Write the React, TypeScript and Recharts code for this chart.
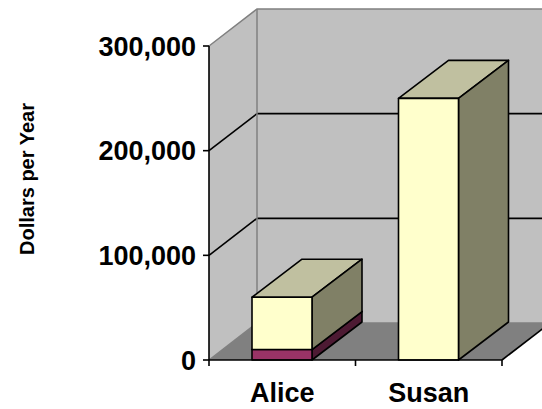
import React from "react";
import { Bar, BarChart, XAxis, YAxis } from "recharts";

const people = ["Alice", "Susan"];
const baseValues = [10000, 0];
const topValues = [50000, 250000];
const yTicks = [0, 100000, 200000, 300000];
const yLabel = "Dollars per Year";

const data = people.map((name, i) => ({
  name,
  base: baseValues[i],
  top: topValues[i],
}));

const W = 542;
const H = 409;
const LEFT = 209;
const TOP = 46;
const RIGHT = 40;
const BOTTOM = 49;
const WALL_DX = 48;
const WALL_DY = -37;
const BAR_DX = 50;
const BAR_DY = -38;
const FONT = "Arial, 'Liberation Sans', sans-serif";

const plotBottom = H - BOTTOM;
const plotRight = W - RIGHT;
const maxY = yTicks[yTicks.length - 1];
const yScale = (v) => plotBottom - (v / maxY) * (plotBottom - TOP);

function Walls() {
  const bx = LEFT + WALL_DX;
  const farRight = plotRight + WALL_DX;
  return (
    <svg width={W} height={H} style={{ position: "absolute", left: 0, top: 0 }}>
      <polygon
        points={`${LEFT},${TOP} ${bx},${TOP + WALL_DY} ${bx},${plotBottom + WALL_DY} ${LEFT},${plotBottom}`}
        fill="#C0C0C0"
      />
      <polygon
        points={`${bx},${TOP + WALL_DY} ${farRight},${TOP + WALL_DY} ${farRight},${plotBottom + WALL_DY} ${bx},${plotBottom + WALL_DY}`}
        fill="#C0C0C0"
      />
      <polygon
        points={`${LEFT},${plotBottom} ${plotRight},${plotBottom} ${farRight},${plotBottom + WALL_DY} ${bx},${plotBottom + WALL_DY}`}
        fill="#808080"
      />
      {yTicks.slice(1, -1).map((v) => (
        <g key={v} stroke="#000" strokeWidth={1.6}>
          <line x1={LEFT} y1={yScale(v)} x2={bx} y2={yScale(v) + WALL_DY} />
          <line x1={bx} y1={yScale(v) + WALL_DY} x2={farRight} y2={yScale(v) + WALL_DY} />
        </g>
      ))}
      <g stroke="#808080" strokeWidth={1.5} fill="none">
        <polyline
          points={`${LEFT},${TOP} ${bx},${TOP + WALL_DY} ${farRight},${TOP + WALL_DY}`}
        />
        <line x1={bx} y1={TOP + WALL_DY} x2={bx} y2={plotBottom + WALL_DY} />
        <line x1={LEFT} y1={plotBottom} x2={bx} y2={plotBottom + WALL_DY} />
        <line x1={bx} y1={plotBottom + WALL_DY} x2={farRight} y2={plotBottom + WALL_DY} />
      </g>
      <line
        x1={plotRight}
        y1={plotBottom}
        x2={farRight}
        y2={plotBottom + WALL_DY}
        stroke="#000"
        strokeWidth={1.6}
      />
      <text
        transform={`translate(27, 179) rotate(-90)`}
        textAnchor="middle"
        dominantBaseline="central"
        fontFamily={FONT}
        fontWeight="bold"
        fontSize={20}
        fill="#000"
      >
        {yLabel}
      </text>
    </svg>
  );
}

function Box3D(props) {
  const { x, y, width, height, front, top, side } = props;
  if (!height || height <= 0) return null;
  const w = width;
  return (
    <g stroke="#000" strokeWidth={1.6} strokeLinejoin="round">
      <polygon
        points={`${x},${y} ${x + w},${y} ${x + w + BAR_DX},${y + BAR_DY} ${x + BAR_DX},${y + BAR_DY}`}
        fill={top}
      />
      <polygon
        points={`${x + w},${y} ${x + w + BAR_DX},${y + BAR_DY} ${x + w + BAR_DX},${y + height + BAR_DY} ${x + w},${y + height}`}
        fill={side}
      />
      <rect x={x} y={y} width={w} height={height} fill={front} />
    </g>
  );
}

const fmt = (v) => v.toLocaleString("en-US");

export default function App() {
  return (
    <div style={{ position: "absolute", left: 0, top: 0, width: W, height: H, background: "#fff" }}>
      <Walls />
      <div style={{ position: "absolute", left: 0, top: 0 }}>
        <BarChart
          width={W}
          height={H}
          data={data}
          margin={{ top: TOP, right: RIGHT, left: 0, bottom: 0 }}
          barSize={60}
        >
          <XAxis
            dataKey="name"
            height={BOTTOM}
            axisLine={{ stroke: "#000", strokeWidth: 1.6 }}
            tickLine={false}
            tickSize={6}
            tickMargin={17}
            tick={{ fill: "#000", fontSize: 27, fontWeight: "bold", fontFamily: FONT }}
          />
          <YAxis
            width={LEFT}
            domain={[0, maxY]}
            ticks={yTicks}
            tickFormatter={fmt}
            axisLine={{ stroke: "#000", strokeWidth: 1.6 }}
            tickLine={{ stroke: "#000", strokeWidth: 1.6 }}
            tickSize={6}
            tickMargin={7}
            tick={{ fill: "#000", fontSize: 27, fontWeight: "bold", fontFamily: FONT }}
          />
          <Bar
            dataKey="base"
            stackId="a"
            isAnimationActive={false}
            shape={(p) => <Box3D {...p} front="#993366" top="#4D1A33" side="#4D1A33" />}
          />
          <Bar
            dataKey="top"
            stackId="a"
            isAnimationActive={false}
            shape={(p) => <Box3D {...p} front="#FFFFCC" top="#C0C0A0" side="#808066" />}
          />
        </BarChart>
      </div>
      <svg width={W} height={H} style={{ position: "absolute", left: 0, top: 0, pointerEvents: "none" }}>
        {[0, 1, 2].map((i) => {
          const xx = LEFT + (i * (plotRight - LEFT)) / people.length;
          return <line key={i} x1={xx} y1={plotBottom} x2={xx} y2={plotBottom + 6} stroke="#000" strokeWidth={1.6} />;
        })}
      </svg>
    </div>
  );
}
